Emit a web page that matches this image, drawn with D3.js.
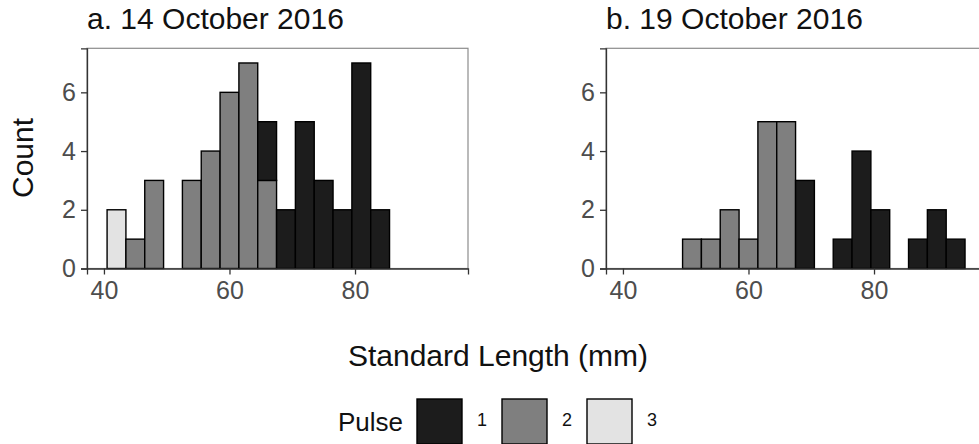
<!DOCTYPE html>
<html>
<head>
<meta charset="utf-8">
<script src="https://cdn.jsdelivr.net/npm/d3@7"></script>
<style>
  html, body { margin: 0; padding: 0; background: #fff; }
  svg { display: block; font-family: "Liberation Sans", Arial, sans-serif; }
</style>
</head>
<body>
<svg id="chart" width="979" height="444"></svg>
<script>
// Histogram bins: lower edge of each 3 mm bin
const binStarts = [40.5, 43.5, 46.5, 49.5, 52.5, 55.5, 58.5, 61.5, 64.5, 67.5, 70.5, 73.5, 76.5, 79.5, 82.5, 85.5, 88.5, 91.5];
const binWidth = 3;

// Fish counts per bin, by pulse, for each sampling date
const pulse1A = [0, 0, 0, 0, 0, 0, 0, 0, 2, 2, 5, 3, 2, 7, 2, 0, 0, 0];
const pulse2A = [0, 1, 3, 0, 3, 4, 6, 7, 3, 0, 0, 0, 0, 0, 0, 0, 0, 0];
const pulse3A = [2, 0, 0, 0, 0, 0, 0, 0, 0, 0, 0, 0, 0, 0, 0, 0, 0, 0];

const pulse1B = [0, 0, 0, 0, 0, 0, 0, 0, 0, 3, 0, 1, 4, 2, 0, 1, 2, 1];
const pulse2B = [0, 0, 0, 1, 1, 2, 1, 5, 5, 0, 0, 0, 0, 0, 0, 0, 0, 0];
const pulse3B = [0, 0, 0, 0, 0, 0, 0, 0, 0, 0, 0, 0, 0, 0, 0, 0, 0, 0];

const panelTitles = ["a. 14 October 2016", "b. 19 October 2016"];
const pulses = ["1", "2", "3"];
const pulseColors = ["#1c1c1c", "#7f7f7f", "#e3e3e3"];
const xTicks = [40, 60, 80];
const yTicks = [0, 2, 4, 6];
const xDomain = [37.3, 98.0];
const yDomain = [0, 7.5];

const panels = [
  { title: panelTitles[0], series: { "1": pulse1A, "2": pulse2A, "3": pulse3A }, left: 87 },
  { title: panelTitles[1], series: { "1": pulse1B, "2": pulse2B, "3": pulse3B }, left: 606 }
];

const svg = d3.select("#chart");
const panelW = 381, panelTop = 48.3, panelBottom = 268.5;

const color = d3.scaleOrdinal().domain(pulses).range(pulseColors);
const y = d3.scaleLinear().domain(yDomain).range([panelBottom, panelTop]);

panels.forEach(p => {
  const x = d3.scaleLinear().domain(xDomain).range([p.left, p.left + panelW]);
  const g = svg.append("g");

  // panel frame
  g.append("rect")
    .attr("x", p.left).attr("y", panelTop)
    .attr("width", panelW).attr("height", panelBottom - panelTop)
    .attr("fill", "#fff").attr("stroke", "#8c8c8c").attr("stroke-width", 1.2);

  // stacked counts: pulse 3 at the bottom, pulse 1 on top
  const rows = binStarts.map((b, i) => ({ start: b, "1": p.series["1"][i], "2": p.series["2"][i], "3": p.series["3"][i] }));
  const stacked = d3.stack().keys(["3", "2", "1"])(rows);

  stacked.forEach(layer => {
    g.append("g").selectAll("rect")
      .data(layer.filter(d => d[1] - d[0] > 0))
      .join("rect")
      .attr("x", d => x(d.data.start))
      .attr("width", d => x(d.data.start + binWidth) - x(d.data.start))
      .attr("y", d => y(d[1]))
      .attr("height", d => y(d[0]) - y(d[1]))
      .attr("fill", color(layer.key))
      .attr("stroke", "#000")
      .attr("stroke-width", 1.4);
  });

  // axes
  const ax = g.append("g").attr("transform", `translate(0,${panelBottom})`)
    .call(d3.axisBottom(x).tickValues(xTicks).tickSize(6).tickPadding(7).tickFormat(d3.format("d")));
  const ay = g.append("g").attr("transform", `translate(${p.left},0)`)
    .call(d3.axisLeft(y).tickValues(yTicks).tickSize(6).tickPadding(5).tickFormat(d3.format("d")));
  [ax, ay].forEach(a => {
    a.select(".domain").attr("stroke", "#333").attr("stroke-width", 1.3);
    a.selectAll(".tick line").attr("stroke", "#333").attr("stroke-width", 1.3);
    a.selectAll(".tick text").attr("fill", "#4d4d4d").attr("font-size", 25)
      .attr("font-family", "Liberation Sans, Arial, sans-serif");
  });

  // panel title
  svg.append("text")
    .attr("x", p.left).attr("y", 29)
    .attr("font-size", 30).attr("fill", "#111")
    .text(p.title);
});

// axis titles
svg.append("text")
  .attr("transform", "translate(33,158) rotate(-90)")
  .attr("text-anchor", "middle")
  .attr("font-size", 30).attr("fill", "#111")
  .text("Count");

svg.append("text")
  .attr("x", 498).attr("y", 366)
  .attr("text-anchor", "middle")
  .attr("font-size", 30).attr("fill", "#111")
  .text("Standard Length (mm)");

// legend
const legend = svg.append("g");
legend.append("text")
  .attr("x", 403).attr("y", 431)
  .attr("text-anchor", "end")
  .attr("font-size", 26).attr("fill", "#111")
  .text("Pulse");

const keyX = [417, 502, 587];
pulses.forEach((k, i) => {
  legend.append("rect")
    .attr("x", keyX[i]).attr("y", 399)
    .attr("width", 45).attr("height", 45)
    .attr("fill", color(k)).attr("stroke", "#000").attr("stroke-width", 1.4);
  legend.append("text")
    .attr("x", keyX[i] + 60).attr("y", 426)
    .attr("font-size", 18).attr("fill", "#111")
    .text(k);
});
</script>
</body>
</html>
